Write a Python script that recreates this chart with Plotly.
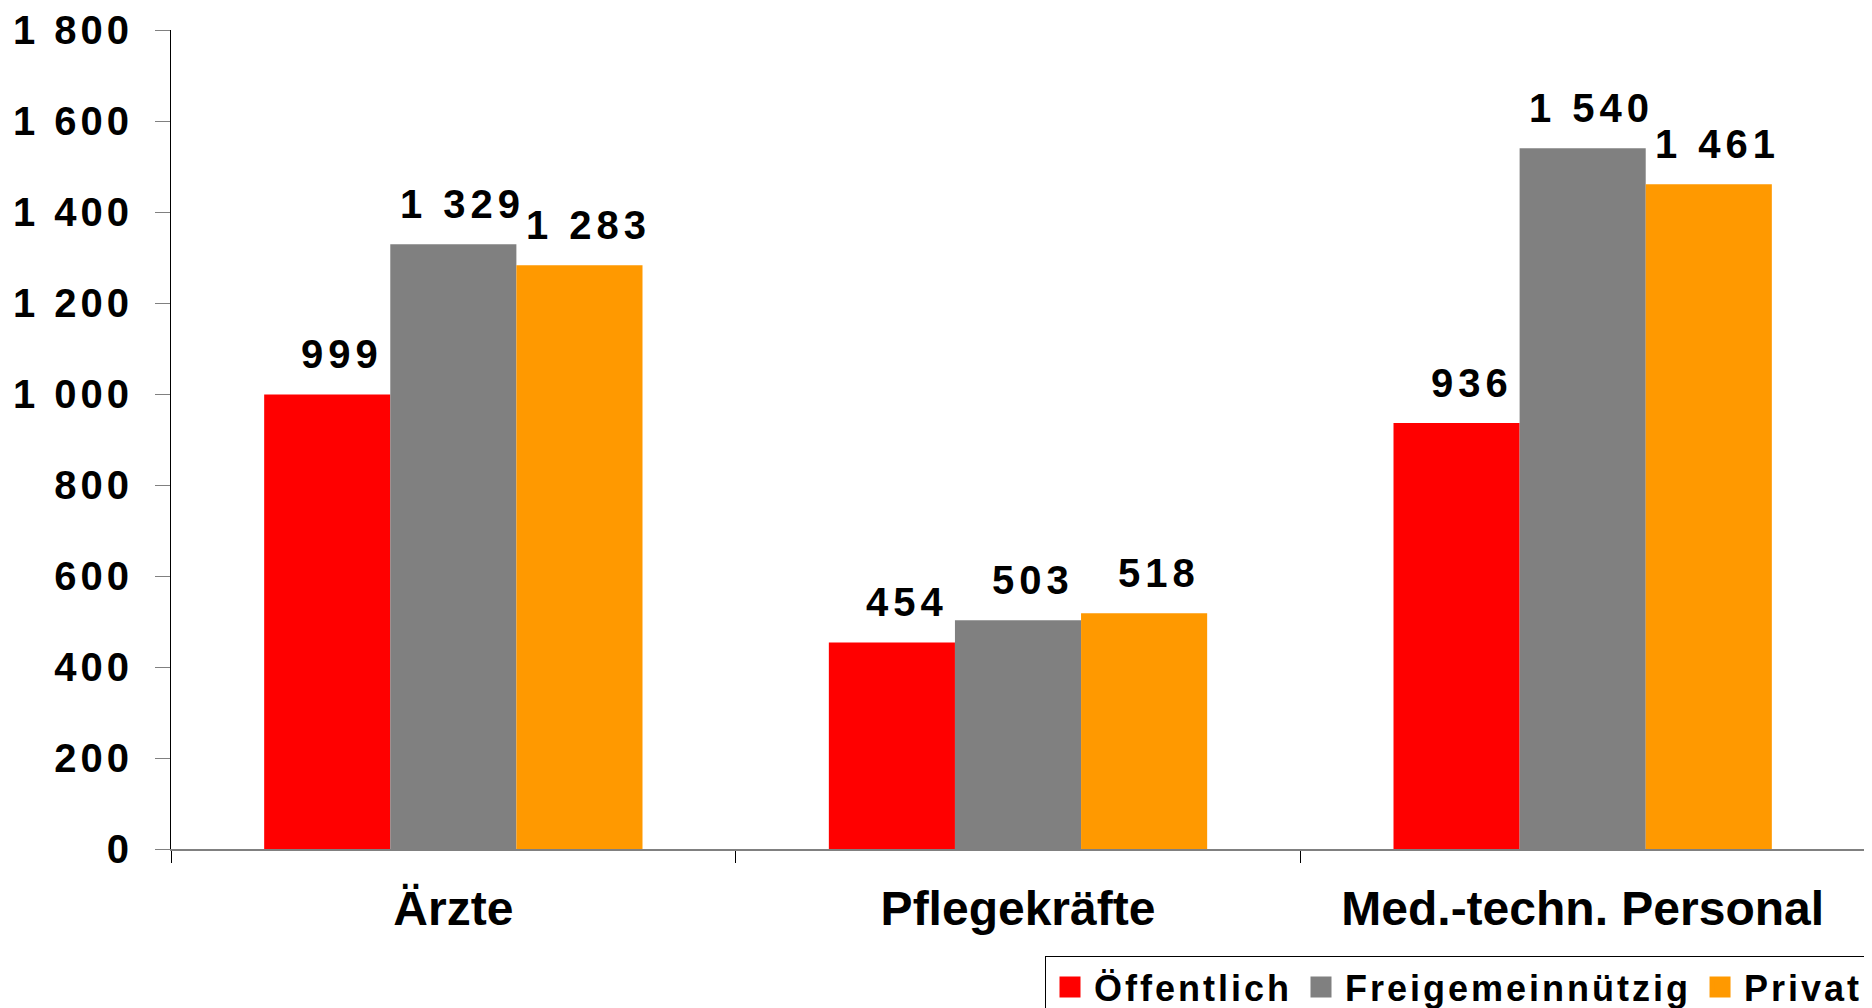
import plotly.graph_objects as go

# Kosten je Vollkraft nach Trägerschaft (Tsd. EUR)
categories = ["Ärzte", "Pflegekräfte", "Med.-techn. Personal"]
series_names = ["Öffentlich", "Freigemeinnützig", "Privat"]
oeffentlich = [999, 454, 936]
freigemeinnuetzig = [1329, 503, 1540]
privat = [1283, 518, 1461]
y_ticks = [0, 200, 400, 600, 800, 1000, 1200, 1400, 1600, 1800]
y_tick_labels = ["0", "200", "400", "600", "800", "1 000", "1 200", "1 400", "1 600", "1 800"]
colors = ["#FF0000", "#808080", "#FF9900"]

FONT = "Liberation Sans, Arial, sans-serif"

# page body has an 8px margin, so the figure is 8px smaller than the window
W, H = 1864, 1000

def spaced(txt, px):
    return f'<span style="letter-spacing:{px}px">{txt}</span>'

def fmt(v):
    return f"{v:,}".replace(",", " ")

series = [oeffentlich, freigemeinnuetzig, privat]

fig = go.Figure()
for name, vals, col in zip(series_names, series, colors):
    fig.add_trace(go.Bar(x=categories, y=vals, name=name, marker_color=col,
                         marker_line_width=0, showlegend=False, hoverinfo="x+y"))
    # legend-only entry on hidden axes (bigger square swatch)
    fig.add_trace(go.Scatter(x=[None], y=[None], name=spaced(name, 3), mode="markers",
                             marker=dict(symbol="square", size=30, color=col,
                                         line=dict(color=col, width=5)),
                             xaxis="x2", yaxis="y2", showlegend=True))

# value labels above the bars
bargap = 0.33
ml, mr = 163, 7
plot_w = W - ml - mr
bar_px = plot_w / len(categories) * (1 - bargap) / len(series)
for i, vals in enumerate(series):
    for cat, v in zip(categories, vals):
        nudge = 9 if v >= 1000 else 15
        fig.add_annotation(x=cat, y=v, text=spaced(fmt(v), 5), showarrow=False,
                           xanchor="center", yanchor="bottom",
                           xshift=(i - 1) * bar_px + nudge, yshift=16,
                           font=dict(family=FONT, size=40, color="black", weight="bold"))

fig.update_layout(
    width=W, height=H,
    margin=dict(l=ml, r=mr, t=22, b=159, autoexpand=False),
    paper_bgcolor="white", plot_bgcolor="white",
    barmode="group", bargap=bargap, bargroupgap=0,
    font=dict(family=FONT, color="black", weight="bold"),
    xaxis=dict(type="category", tickson="boundaries", ticks="outside", ticklen=12,
               tickcolor="black", tickwidth=1, showline=True, linecolor="#808080",
               linewidth=2, showgrid=False,
               tickfont=dict(family=FONT, size=48, color="black", weight="bold"),
               ticklabelstandoff=16),
    yaxis=dict(range=[0, 1800], tickvals=y_ticks,
               ticktext=[spaced(t, 4) for t in y_tick_labels],
               ticks="outside", ticklen=15, tickcolor="#808080", tickwidth=1,
               showline=True, linecolor="black", linewidth=1, showgrid=False,
               zeroline=False,
               tickfont=dict(family=FONT, size=40, color="black", weight="bold"),
               ticklabelstandoff=14),
    xaxis2=dict(overlaying="x", visible=False),
    yaxis2=dict(overlaying="y", visible=False),
    legend=dict(orientation="h", xref="container", yref="container",
                x=1037 / W, y=1 - 948 / H, xanchor="left", yanchor="top",
                bordercolor="black", borderwidth=1, bgcolor="white", itemwidth=38,
                font=dict(family=FONT, size=36, color="black", weight="bold")),
    showlegend=True,
)

fig.write_html("out.html")
